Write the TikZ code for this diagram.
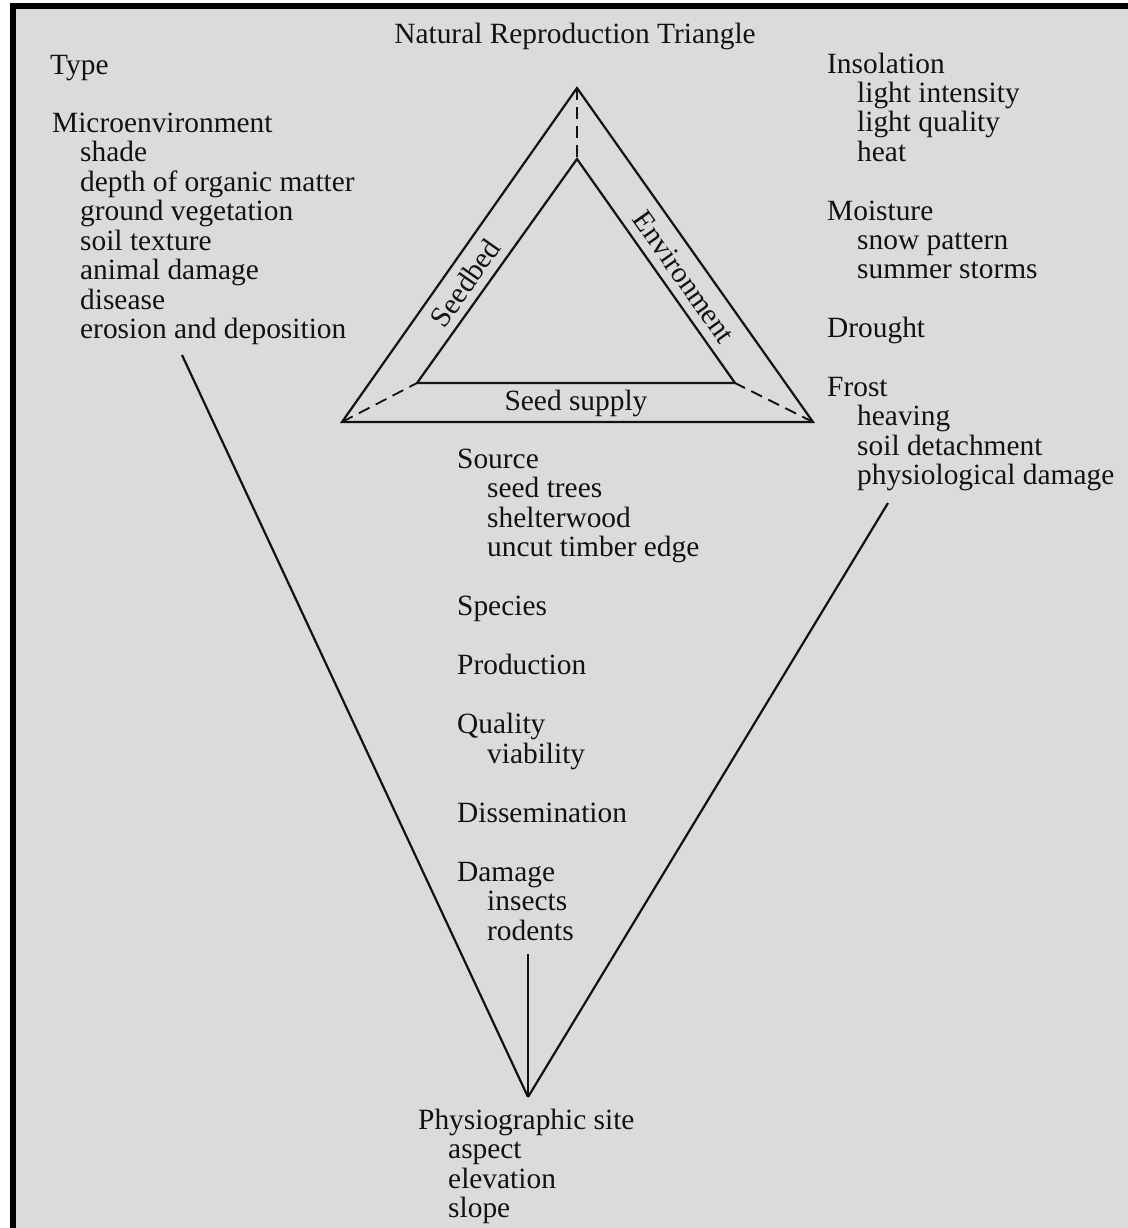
\documentclass[tikz,border=0pt]{standalone}
\usepackage{fontspec}
\setmainfont{Liberation Serif}
\definecolor{paper}{RGB}{218,219,219}
\definecolor{ink}{RGB}{18,18,18}
\begin{document}
\begin{tikzpicture}[x=1bp,y=-1bp,
  lbl/.style={anchor=base west, inner sep=0pt, text=ink, font=\fontsize{29.5}{30}\selectfont},
  ctr/.style={anchor=base, inner sep=0pt, text=ink, font=\fontsize{29.5}{30}\selectfont},
  sidelbl/.style={inner sep=0pt, text=ink, font=\fontsize{29.5}{30}\selectfont},
  ln/.style={draw=ink, line width=2.2bp},
  dashln/.style={draw=ink, line width=1.8bp, dash pattern=on 12bp off 7bp}]
% page and frame
\useasboundingbox (0,0) rectangle (1128,1228);
\fill[white] (0,0) rectangle (1128,1228);
\fill[paper] (16,9) rectangle (1128,1228);
\fill[black] (10,3) rectangle (16,1228);
\fill[black] (10,3) rectangle (1128,9);

% title
\node[ctr] (title) at (575,43) {Natural Reproduction Triangle};

% triangle corners
\coordinate (O1) at (577,88);
\coordinate (O2) at (342,422);
\coordinate (O3) at (813,422);
\coordinate (I1) at (577,159);
\coordinate (I2) at (417,383);
\coordinate (I3) at (735,383);
\draw[ln, line join=miter] (O1) -- (O2) -- (O3) -- cycle;
\draw[ln, line join=miter] (I1) -- (I2) -- (I3) -- cycle;
\draw[dashln] (O1) -- (I1);
\draw[dashln] (O2) -- (I2);
\draw[dashln] (O3) -- (I3);
\node[ctr] (seedsupply) at (576,410) {Seed supply};
\node[sidelbl, rotate=54.9] (seedbed) at (465,283) {Seedbed};
\node[sidelbl, rotate=-54.8] (environment) at (684,277) {Environment};

% left column
\node[lbl] (type) at (50,74) {Type};
\node[lbl] (micro) at (52,132) {Microenvironment};
\node[lbl] (shade) at (80,161.5) {shade};
\node[lbl] (depth) at (80,191) {depth of organic matter};
\node[lbl] (ground) at (80,220.5) {ground vegetation};
\node[lbl] (soiltex) at (80,250) {soil texture};
\node[lbl] (animal) at (80,279.5) {animal damage};
\node[lbl] (disease) at (80,309) {disease};
\node[lbl] (erosion) at (80,338.5) {erosion and deposition};

% right column
\node[lbl] (insol) at (827,73) {Insolation};
\node[lbl] (lint) at (857,102.4) {light intensity};
\node[lbl] (lqual) at (857,131.8) {light quality};
\node[lbl] (heat) at (857,161.2) {heat};
\node[lbl] (moist) at (827,220) {Moisture};
\node[lbl] (snow) at (857,249.4) {snow pattern};
\node[lbl] (storms) at (857,278.8) {summer storms};
\node[lbl] (drought) at (827,337.6) {Drought};
\node[lbl] (frost) at (827,396.4) {Frost};
\node[lbl] (heaving) at (857,425.8) {heaving};
\node[lbl] (soildet) at (857,455.2) {soil detachment};
\node[lbl] (physdam) at (857,484.6) {physiological damage};

% middle column
\node[lbl] (source) at (457,468) {Source};
\node[lbl] (seedtrees) at (487,497.5) {seed trees};
\node[lbl] (shelter) at (487,527) {shelterwood};
\node[lbl] (uncut) at (487,556.5) {uncut timber edge};
\node[lbl] (species) at (457,615.5) {Species};
\node[lbl] (production) at (457,674.5) {Production};
\node[lbl] (quality) at (457,733.5) {Quality};
\node[lbl] (viability) at (487,763) {viability};
\node[lbl] (dissem) at (457,822) {Dissemination};
\node[lbl] (damage) at (457,881) {Damage};
\node[lbl] (insects) at (487,910.5) {insects};
\node[lbl] (rodents) at (487,940) {rodents};

% bottom
\node[lbl] (physio) at (418,1129) {Physiographic site};
\node[lbl] (aspect) at (448,1158.5) {aspect};
\node[lbl] (elev) at (448,1188) {elevation};
\node[lbl] (slope) at (448,1217.5) {slope};

% V connectors
\coordinate (vtip) at (528,1097);
\coordinate (lstart) at (182,355);
\coordinate (rstart) at (888,503);
\coordinate (vtop) at (528,954);
\draw[ln] (lstart) -- (vtip);
\draw[ln] (rstart) -- (vtip);
\draw[ln] (vtop) -- (vtip);
\end{tikzpicture}
\end{document}
